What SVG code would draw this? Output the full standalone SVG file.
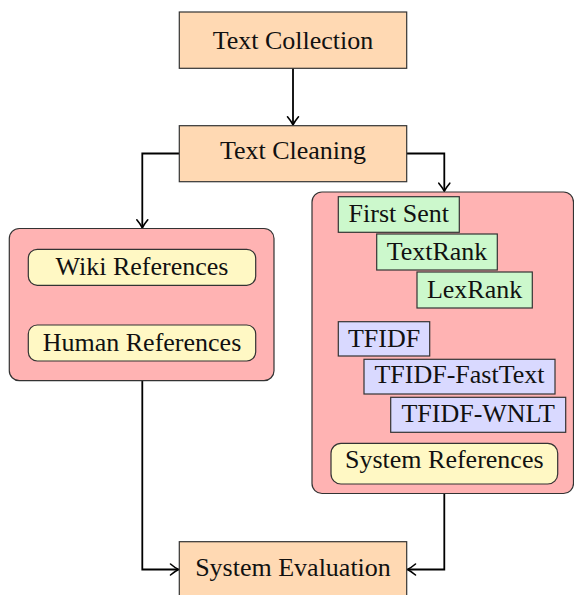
<svg xmlns="http://www.w3.org/2000/svg" width="574" height="595" viewBox="0 0 574 595">
<style>
text{font-family:"Liberation Serif","Times New Roman",serif;font-size:26px;fill:#111;text-anchor:middle}
.stage{fill:#FFD9B3;stroke:#333;stroke-width:1.2}
.group{fill:#FFB3B3;stroke:#333;stroke-width:1.2}
.ref{fill:#FFF8C4;stroke:#333;stroke-width:1.2}
.ext{fill:#CCF8CC;stroke:#333;stroke-width:1.2}
.tf{fill:#D9D9FF;stroke:#333;stroke-width:1.2}
.conn{fill:none;stroke:#000;stroke-width:1.8;marker-end:url(#arr)}
</style>
<defs>
<marker id="arr" markerUnits="userSpaceOnUse" markerWidth="20" markerHeight="20" viewBox="-10 -10 20 20" refX="0" refY="0" orient="auto">
<path d="M-8,-5.5 C-5,-3 -2,-1 0,0 C-2,1 -5,3 -8,5.5" fill="none" stroke="#000" stroke-width="1.6" stroke-linecap="round"/>
</marker>
</defs>
<g id="connectors">
<path class="conn" d="M293,68.3 V124.8"/>
<path class="conn" d="M179.3,153.5 H142.3 V227.8"/>
<path class="conn" d="M406.7,153.5 H444.3 V191.2"/>
<path class="conn" d="M142.3,380.7 V569.5 H178.5"/>
<path class="conn" d="M444.3,493.5 V569.5 H407.5"/>
</g>
<g id="text-collection">
<rect class="stage" x="179.3" y="12" width="227.4" height="56.3"/>
<text x="293" y="49">Text Collection</text>
</g>
<g id="text-cleaning">
<rect class="stage" x="179.3" y="125.7" width="227.4" height="56"/>
<text x="293" y="159.3">Text Cleaning</text>
</g>
<g id="reference-group">
<rect class="group" x="9.3" y="228.5" width="264.7" height="152.2" rx="10"/>
</g>
<g id="wiki-references">
<rect class="ref" x="28.3" y="249.3" width="227.4" height="36" rx="9"/>
<text x="142" y="275.2">Wiki References</text>
</g>
<g id="human-references">
<rect class="ref" x="28.3" y="325" width="227.4" height="36" rx="9"/>
<text x="142" y="350.7">Human References</text>
</g>
<g id="system-group">
<rect class="group" x="312" y="192" width="261.5" height="301.5" rx="10"/>
</g>
<g id="first-sent">
<rect class="ext" x="338.3" y="196.7" width="121" height="35.6"/>
<text x="398.8" y="222.3">First Sent</text>
</g>
<g id="textrank">
<rect class="ext" x="376.7" y="234" width="120.6" height="36"/>
<text x="437" y="260">TextRank</text>
</g>
<g id="lexrank">
<rect class="ext" x="417" y="272" width="115.3" height="36"/>
<text x="474.6" y="298.3">LexRank</text>
</g>
<g id="tfidf">
<rect class="tf" x="338.3" y="321.7" width="91.4" height="34.3"/>
<text x="384" y="346.7">TFIDF</text>
</g>
<g id="tfidf-fasttext">
<rect class="tf" x="364" y="359.3" width="191" height="34.7"/>
<text x="459.5" y="383.3">TFIDF-FastText</text>
</g>
<g id="tfidf-wnlt">
<rect class="tf" x="390.7" y="397.3" width="175" height="35"/>
<text x="478.2" y="421.7">TFIDF-WNLT</text>
</g>
<g id="system-references">
<rect class="ref" x="331" y="443.3" width="226.7" height="40.7" rx="10"/>
<text x="444.3" y="468.3">System References</text>
</g>
<g id="system-evaluation">
<rect class="stage" x="179.3" y="541.7" width="227.4" height="56"/>
<text x="293" y="576">System Evaluation</text>
</g>
</svg>
